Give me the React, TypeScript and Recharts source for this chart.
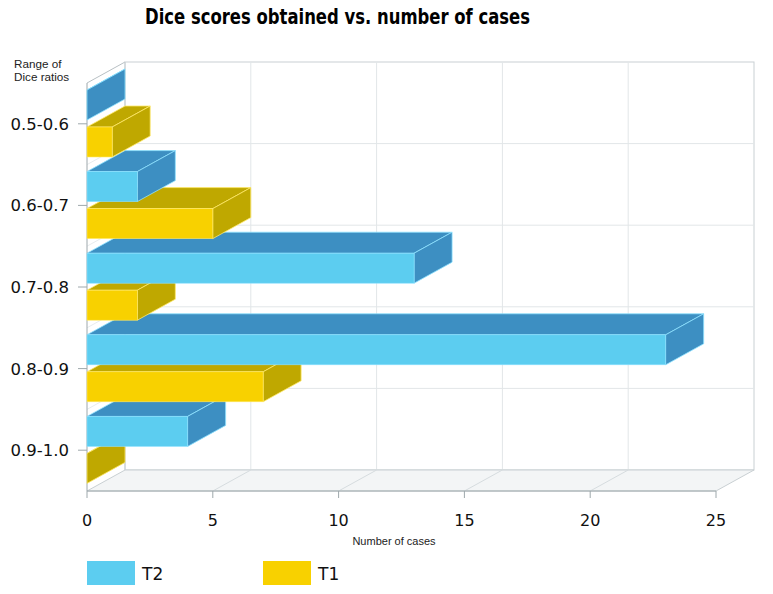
import React from 'react';
import { BarChart, Bar, XAxis, YAxis } from 'recharts';

const categories = ['0.5-0.6', '0.6-0.7', '0.7-0.8', '0.8-0.9', '0.9-1.0'];
const t2Values = [0, 2, 13, 23, 4];
const t1Values = [1, 5, 2, 7, 0];
const xTicks = [0, 5, 10, 15, 20, 25];

const series = [
  { key: 'T2', front: '#5ccdf0', dark: '#3d8fc2', edge: '#8ee2ff' },
  { key: 'T1', front: '#f8d100', dark: '#bfa800', edge: '#ffe96a' },
];

const data = categories.map((range, i) => ({ range, T2: t2Values[i], T1: t1Values[i] }));

// layout
const W = 773;
const H = 594;
const LEFT = 87;
const RIGHT = 57;
const TOP = 83;
const BOTTOM = 103;
const DX = 38; // 3d depth
const DY = 21;
const plotW = W - LEFT - RIGHT;
const plotH = H - TOP - BOTTOM;
const xMax = xTicks[xTicks.length - 1];

const FONT = '"DejaVu Sans", Verdana, sans-serif';
const SMALL = '"Liberation Sans", Arial, sans-serif';

const makeShape = (face: string, s: any) => (props: any) => {
  const { x, y, width: w, height: h } = props;
  if (face === 'front') {
    if (!(w > 0)) return <g />;
    return <rect x={x} y={y} width={w} height={h} fill={s.front} stroke={s.edge} strokeWidth={0.6} />;
  }
  if (face === 'top') {
    const pts = `${x},${y} ${x + w},${y} ${x + w + DX},${y - DY} ${x + DX},${y - DY}`;
    return <polygon points={pts} fill={s.dark} stroke={s.edge} strokeWidth={0.8} strokeLinejoin="round" />;
  }
  const pts = `${x + w},${y} ${x + w + DX},${y - DY} ${x + w + DX},${y + h - DY} ${x + w},${y + h}`;
  return <polygon points={pts} fill={s.dark} stroke={s.edge} strokeWidth={0.8} strokeLinejoin="round" />;
};

const XTick = (props: any) => {
  const { x, payload } = props;
  return (
    <text x={x} y={TOP + plotH + 35} textAnchor="middle" fontSize={16} fontFamily={FONT} fill="#111">
      {payload.value}
    </text>
  );
};

const YTick = (props: any) => {
  const { y, payload } = props;
  return (
    <text x={69} y={y + 6} textAnchor="end" fontSize={16.5} fontFamily={FONT} fill="#111">
      {payload.value}
    </text>
  );
};

const BarLayer = ({ face, axes }: { face: string; axes: boolean }) => (
  <div style={{ position: 'absolute', left: 0, top: 0 }}>
    <BarChart
      width={W}
      height={H}
      data={data}
      layout="vertical"
      margin={{ top: TOP, right: RIGHT, bottom: 0, left: 0 }}
      barSize={30}
      barGap={7}
    >
      <XAxis
        type="number"
        domain={[0, xMax]}
        ticks={xTicks}
        interval={0}
        height={BOTTOM}
        axisLine={axes ? { stroke: '#9ea8ac' } : false}
        tickLine={axes ? { stroke: '#9ea8ac' } : false}
        tickSize={7}
        tick={axes ? <XTick /> : false}
      />
      <YAxis
        type="category"
        dataKey="range"
        width={LEFT}
        axisLine={axes ? { stroke: '#9ea8ac' } : false}
        tickLine={axes ? { stroke: '#9ea8ac' } : false}
        tickSize={9}
        tick={axes ? <YTick /> : false}
      />
      {series.map((s) => (
        <Bar key={s.key} dataKey={s.key} shape={makeShape(face, s)} isAnimationActive={false} />
      ))}
    </BarChart>
  </div>
);

const Backdrop = () => {
  const unit = plotW / xMax;
  const band = plotH / categories.length;
  const bx = LEFT + DX;
  const by = TOP - DY;
  const bottom = TOP + plotH;
  return (
    <svg width={W} height={H} style={{ position: 'absolute', left: 0, top: 0 }}>
      <text x={145} y={24} fontSize={21} fontWeight="bold" fontFamily={FONT} textLength={385} lengthAdjust="spacingAndGlyphs" fill="#000">
        Dice scores obtained vs. number of cases
      </text>
      <text x={14} y={68} fontSize={11.7} fontFamily={SMALL} fill="#222">Range of</text>
      <text x={14} y={81} fontSize={11.7} fontFamily={SMALL} fill="#222">Dice ratios</text>

      {/* back wall */}
      <rect x={bx} y={by} width={plotW} height={plotH} fill="#fff" stroke="#c9d0d3" />
      {xTicks.slice(1, -1).map((v) => (
        <line key={v} x1={bx + v * unit} x2={bx + v * unit} y1={by} y2={by + plotH} stroke="#e2e6e8" />
      ))}
      {categories.slice(1).map((c, i) => (
        <line key={c} x1={bx} x2={bx + plotW} y1={by + (i + 1) * band} y2={by + (i + 1) * band} stroke="#e2e6e8" />
      ))}
      {/* left wall */}
      {categories.map((c, i) => (
        <line key={c} x1={LEFT} y1={TOP + i * band} x2={bx} y2={by + i * band} stroke={i === 0 ? '#b8c0c4' : '#e8ecee'} />
      ))}
      <line x1={bx} y1={by} x2={bx} y2={by + plotH} stroke="#c9d0d3" />
      {/* floor */}
      <polygon
        points={`${LEFT},${bottom} ${LEFT + plotW},${bottom} ${bx + plotW},${by + plotH} ${bx},${by + plotH}`}
        fill="#f3f5f6"
        stroke="#c9d0d3"
      />
      {xTicks.slice(1, -1).map((v) => (
        <line key={v} x1={LEFT + v * unit} y1={bottom} x2={bx + v * unit} y2={by + plotH} stroke="#d6dcdf" />
      ))}

      <text x={394} y={545} textAnchor="middle" fontSize={11} fontFamily={SMALL} fill="#222">Number of cases</text>

      {/* legend */}
      {series.map((s, i) => (
        <g key={s.key}>
          <rect x={87 + i * 176} y={561} width={48} height={24} fill={s.front} />
          <text x={142 + i * 176} y={580} fontSize={17} fontFamily={FONT} fill="#111">{s.key}</text>
        </g>
      ))}
    </svg>
  );
};

export default function App() {
  return (
    <div style={{ position: 'absolute', left: 0, top: 0, width: W, height: H, background: '#fff' }}>
      <Backdrop />
      <BarLayer face="top" axes />
      <BarLayer face="side" axes={false} />
      <BarLayer face="front" axes={false} />
    </div>
  );
}
